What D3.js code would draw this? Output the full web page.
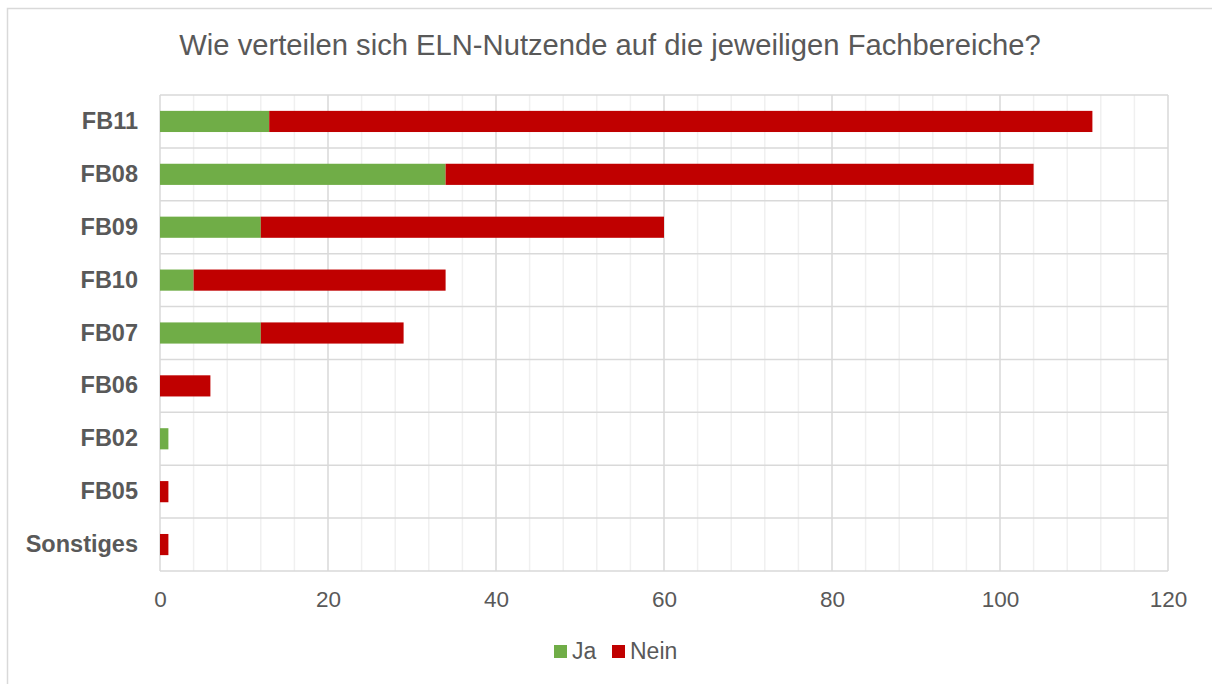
<!DOCTYPE html>
<html>
<head>
<meta charset="utf-8">
<script src="https://cdn.jsdelivr.net/npm/d3@7"></script>
<style>
  body { margin: 0; background: #fff; overflow: hidden; }
  text { font-family: "Liberation Sans", Arial, sans-serif; fill: #595959; }
</style>
</head>
<body>
<div class="chart"></div>
<script>
// data
const categories = ['FB11', 'FB08', 'FB09', 'FB10', 'FB07', 'FB06', 'FB02', 'FB05', 'Sonstiges']
const jaValues = [13, 34, 12, 4, 12, 0, 1, 0, 0]
const neinValues = [98, 70, 48, 30, 17, 6, 0, 1, 1]
const seriesNames = ['Ja', 'Nein']
const seriesColors = ['#70ad47', '#c00000']
const xTicks = [0, 20, 40, 60, 80, 100, 120]

const width = 1212
const height = 684

const margin = { top: 95, right: 44, bottom: 113, left: 160 }
const innerWidth = width - margin.left - margin.right
const innerHeight = height - margin.top - margin.bottom

const svg = d3.select('.chart')
  .append('svg')
  .attr('width', width)
  .attr('height', height)
  .style('display', 'block')

// outer frame: only top and left edges are visible in the reference
svg.append('path')
  .attr('d', `M7.5,${height} V8.5 H${width}`)
  .attr('fill', 'none')
  .attr('stroke', '#d9d9d9')
  .attr('stroke-width', 1.5)

svg.append('text')
  .attr('x', 610)
  .attr('y', 55)
  .attr('text-anchor', 'middle')
  .style('font-size', '29.2px')
  .text('Wie verteilen sich ELN-Nutzende auf die jeweiligen Fachbereiche?')

const g = svg.append('g')
  .attr('transform', `translate(${margin.left},${margin.top})`)

const x = d3.scaleLinear()
  .domain([0, 120])
  .range([0, innerWidth])

const y = d3.scaleBand()
  .domain(categories)
  .range([0, innerHeight])
  .paddingInner(0.6)
  .paddingOuter(0.3)

// minor gridlines
g.append('g')
  .selectAll('line')
  .data(d3.range(0, 121, 4).filter(v => v % 20 !== 0))
  .join('line')
  .attr('x1', d => x(d))
  .attr('x2', d => x(d))
  .attr('y1', 0)
  .attr('y2', innerHeight)
  .attr('stroke', '#f0f0f0')
  .attr('stroke-width', 1.5)

// major gridlines
g.append('g')
  .selectAll('line')
  .data(xTicks)
  .join('line')
  .attr('x1', d => x(d))
  .attr('x2', d => x(d))
  .attr('y1', 0)
  .attr('y2', innerHeight)
  .attr('stroke', '#d9d9d9')
  .attr('stroke-width', 1.5)

// category separators
const step = y.step()
g.append('g')
  .selectAll('line')
  .data(d3.range(categories.length + 1))
  .join('line')
  .attr('x1', 0)
  .attr('x2', innerWidth)
  .attr('y1', i => i * step)
  .attr('y2', i => i * step)
  .attr('stroke', '#d9d9d9')
  .attr('stroke-width', 1.5)

const rows = categories.map((c, i) => ({ cat: c, Ja: jaValues[i], Nein: neinValues[i] }))
const stacked = d3.stack().keys(seriesNames)(rows)

g.append('g')
  .selectAll('g')
  .data(stacked)
  .join('g')
  .attr('fill', (d, i) => seriesColors[i])
  .selectAll('rect')
  .data(d => d.filter(p => p[1] > p[0]))
  .join('rect')
  .attr('x', d => x(d[0]))
  .attr('width', d => x(d[1]) - x(d[0]))
  .attr('y', d => y(d.data.cat))
  .attr('height', y.bandwidth())

// y labels
const yAxis = d3.axisLeft(y).tickSize(0).tickPadding(22)
g.append('g')
  .call(yAxis)
  .call(s => s.select('.domain').remove())
  .selectAll('text')
  .style('font-size', '23.5px')
  .style('font-weight', 'bold')
  .attr('fill', '#595959')

// x labels
const xAxis = d3.axisBottom(x).tickValues(xTicks).tickSize(0).tickPadding(20)
g.append('g')
  .attr('transform', `translate(0,${innerHeight})`)
  .call(xAxis)
  .call(s => s.select('.domain').remove())
  .selectAll('text')
  .style('font-size', '22.5px')
  .attr('fill', '#595959')

// legend
const legend = svg.append('g')
  .attr('transform', 'translate(554,645)')

const legendOffsets = [0, 58]
seriesNames.forEach((name, i) => {
  const item = legend.append('g').attr('transform', `translate(${legendOffsets[i]},0)`)
  item.append('rect')
    .attr('width', 13)
    .attr('height', 13)
    .attr('fill', seriesColors[i])
  item.append('text')
    .attr('x', 18)
    .attr('y', 14)
    .style('font-size', '23px')
    .text(name)
})
</script>
</body>
</html>
